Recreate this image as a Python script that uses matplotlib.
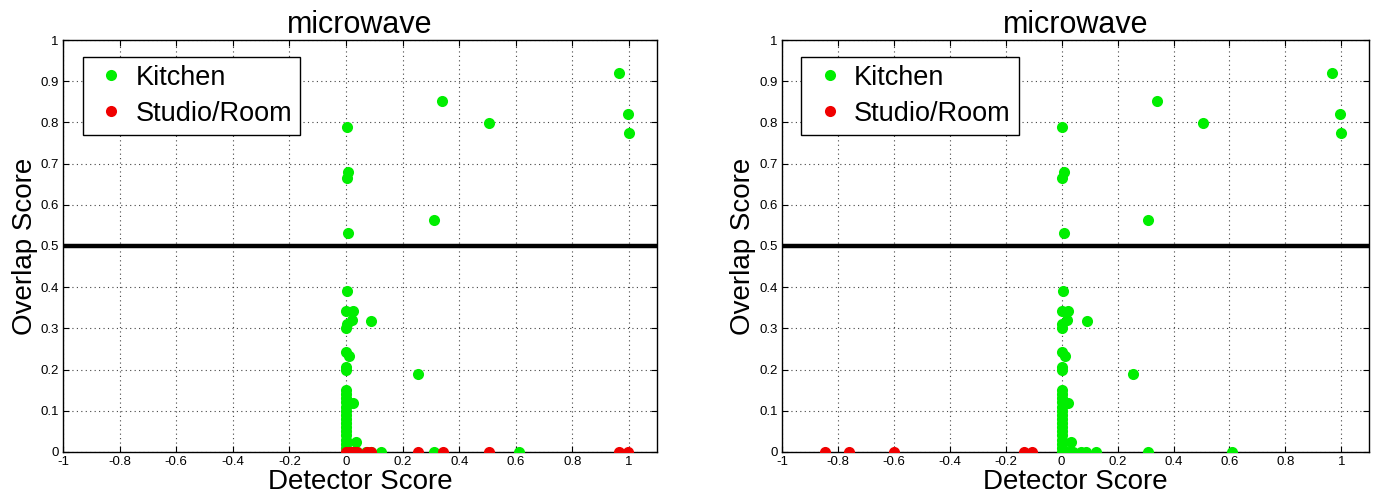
import matplotlib
matplotlib.use("Agg")
import matplotlib.pyplot as plt

# Kitchen points (same in both panels)
kitchen_x = [0.965, 0.34, 0.995, 0.003, 0.505, 1.0, 0.008, 0.003, 0.31, 0.008,
             0.005, 0.0, 0.024, 0.02, 0.003, 0.0, 0.089,
             0.0, 0.012, 0.0, 0.0, 0.254,
             0.0, 0.0, 0.0, 0.0, 0.0, 0.0, 0.0, 0.0, 0.0, 0.0, 0.0, 0.0, 0.0, 0.0, 0.0, 0.0,
             0.024, 0.035, 0.01, 0.02, 0.03, 0.04, 0.07, 0.087, 0.124, 0.31, 0.61]
kitchen_y = [0.92, 0.852, 0.82, 0.79, 0.798, 0.775, 0.68, 0.665, 0.563, 0.532,
             0.39, 0.343, 0.343, 0.32, 0.31, 0.30, 0.318,
             0.243, 0.233, 0.207, 0.20, 0.189,
             0.15, 0.14, 0.13, 0.12, 0.11, 0.10, 0.09, 0.08, 0.07, 0.06, 0.05, 0.04, 0.03, 0.02, 0.01, 0.0,
             0.118, 0.025, 0.0, 0.0, 0.0, 0.0, 0.0, 0.0, 0.0, 0.0, 0.0]

# Studio/Room points, all at overlap 0
studio_x_left = [0.0, 0.01, 0.02, 0.03, 0.04, 0.074, 0.089, 0.256, 0.343, 0.505, 0.963, 0.995]
studio_x_right = [-0.846, -0.759, -0.599, -0.134, -0.105]

xticks = [-1, -0.8, -0.6, -0.4, -0.2, 0, 0.2, 0.4, 0.6, 0.8, 1]
xticklabels = ["-1", "-0.8", "-0.6", "-0.4", "-0.2", "0", "0.2", "0.4", "0.6", "0.8", "1"]
yticks = [0, 0.1, 0.2, 0.3, 0.4, 0.5, 0.6, 0.7, 0.8, 0.9, 1]
yticklabels = ["0", "0.1", "0.2", "0.3", "0.4", "0.5", "0.6", "0.7", "0.8", "0.9", "1"]

plt.rcParams['font.family'] = ['Liberation Sans', 'DejaVu Sans']

green = '#00ee00'
red = '#f00000'

fig = plt.figure(figsize=(13.79, 5.01), dpi=100)
ax1 = fig.add_axes([0.0457, 0.098, 0.431, 0.822])
ax2 = fig.add_axes([0.567, 0.098, 0.426, 0.822])

for ax, sx in [(ax1, studio_x_left), (ax2, studio_x_right)]:
    ax.plot(kitchen_x, kitchen_y, 'o', color=green, markersize=8, markeredgewidth=0, label='Kitchen', zorder=3)
    ax.plot(sx, [0] * len(sx), 'o', color=red, markersize=8, markeredgewidth=0, label='Studio/Room', zorder=4)
    ax.axhline(0.5, color='black', linewidth=3.2, zorder=2)
    ax.set_xlim(-1, 1.1)
    ax.set_ylim(0, 1)
    ax.set_xticks(xticks)
    ax.set_xticklabels(xticklabels)
    ax.set_yticks(yticks)
    ax.set_yticklabels(yticklabels)
    ax.tick_params(direction='in', top=True, right=True, length=4, labelsize=9.5, pad=3)
    ax.grid(True, linestyle=(0, (1, 3)), color='#444444', linewidth=0.8)
    ax.set_axisbelow(True)
    for s in ax.spines.values():
        s.set_linewidth(1)
    ax.set_title('microwave', fontsize=22, pad=5)
    ax.set_xlabel('Detector Score', fontsize=20, labelpad=1)
    ax.set_ylabel('Overlap Score', fontsize=20, labelpad=2)
    leg = ax.legend(loc='upper left', bbox_to_anchor=(0.033, 0.96), borderaxespad=0,
                    fontsize=19.5, numpoints=1, handlelength=1.5, handletextpad=0.15,
                    borderpad=0.3, labelspacing=0.38, fancybox=False, framealpha=1)
    leg.get_frame().set_edgecolor('black')
    leg.get_frame().set_linewidth(1)

fig.savefig('out.png', dpi=100)
